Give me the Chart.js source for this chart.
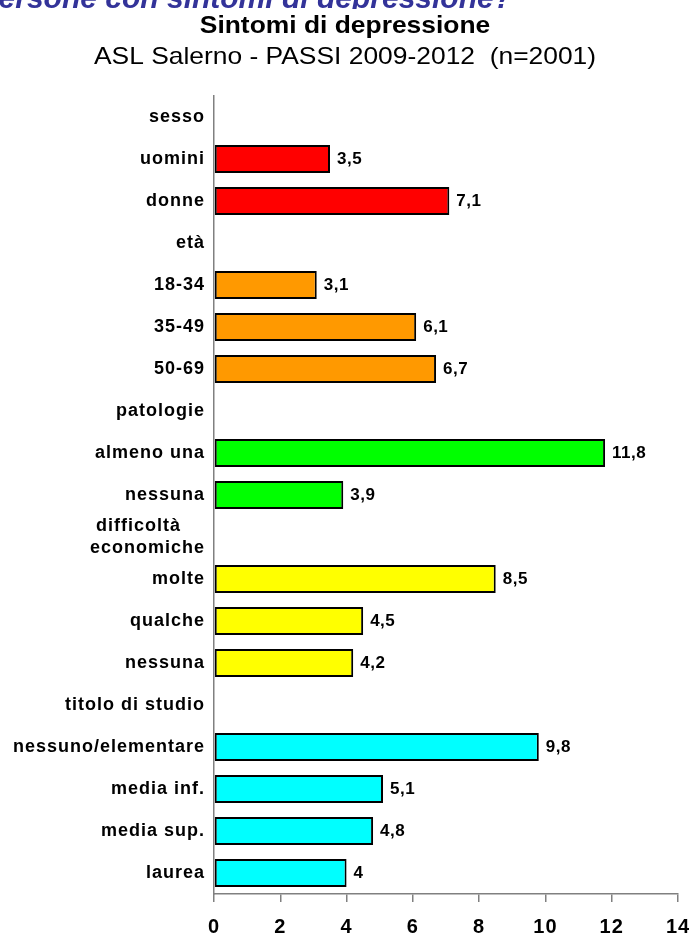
<!DOCTYPE html>
<html>
<head>
<meta charset="utf-8">
<script src="https://cdn.jsdelivr.net/npm/chart.js@4.4.1/dist/chart.umd.min.js"></script>
<style>
    html, body { margin: 0; padding: 0; background: #fff; overflow: hidden; }
    #wrap { width: 690px; height: 934px; overflow: hidden; }
    #box { width: 700px; height: 934px; }
</style>
</head>
<body>
<div id="wrap"><div id="box"><canvas id="depChart"></canvas></div></div>
<script>
// categories top to bottom (group headers have no value)
const categories = ["sesso", "uomini", "donne", "età", "18-34", "35-49", "50-69",
    "patologie", "almeno una", "nessuna", ["difficoltà    ", "economiche"], "molte", "qualche", "nessuna",
    "titolo di studio", "nessuno/elementare", "media inf.", "media sup.", "laurea"];
const values = [null, 3.5, 7.1, null, 3.1, 6.1, 6.7, null, 11.8, 3.9, null, 8.5, 4.5, 4.2,
    null, 9.8, 5.1, 4.8, 4.0];
const barColors = ["#FF0000", "#FF0000", "#FF0000", "#FF9900", "#FF9900", "#FF9900", "#FF9900",
    "#00FF00", "#00FF00", "#00FF00", "#FFFF00", "#FFFF00", "#FFFF00", "#FFFF00",
    "#00FFFF", "#00FFFF", "#00FFFF", "#00FFFF", "#00FFFF"];
const xTicks = [0, 2, 4, 6, 8, 10, 12, 14];

const titleText = "Sintomi di depressione";
const subtitleText = "ASL Salerno - PASSI 2009-2012  (n=2001)";
const topText = "Persone con sintomi di depressione?";

const textPlugin = {
    id: "texts",
    beforeDraw(chart) {
        // the original labels are a bit spaced out
        chart.ctx.letterSpacing = "1px";
    },
    afterDraw(chart) {
        const ctx = chart.ctx;
        ctx.save();
        ctx.letterSpacing = "0px";
        // heading cut off at the top of the picture
        ctx.save();
        ctx.beginPath();
        ctx.rect(0, 0, 700, 9);
        ctx.clip();
        ctx.fillStyle = "#333399";
        ctx.font = "italic bold 30px 'Liberation Sans', Arial, sans-serif";
        ctx.textAlign = "right";
        ctx.textBaseline = "alphabetic";
        ctx.fillText(topText, 512, 8);
        ctx.restore();

        ctx.fillStyle = "#000";
        ctx.textAlign = "center";
        ctx.save();
        ctx.translate(345, 33);
        ctx.scale(1.1, 1);
        ctx.font = "bold 24px 'Liberation Sans', Arial, sans-serif";
        ctx.fillText(titleText, 0, 0);
        ctx.restore();
        ctx.save();
        ctx.translate(345, 64);
        ctx.scale(1.1, 1);
        ctx.font = "24px 'Liberation Sans', Arial, sans-serif";
        ctx.fillText(subtitleText, 0, 0);
        ctx.restore();

        // value labels
        const meta = chart.getDatasetMeta(0);
        ctx.letterSpacing = "0.5px";
        ctx.font = "bold 17px 'Liberation Sans', Arial, sans-serif";
        ctx.textAlign = "left";
        ctx.textBaseline = "middle";
        meta.data.forEach((bar, i) => {
            if (values[i] === null) return;
            ctx.fillText(String(values[i]).replace(".", ","), bar.x + 7, bar.y);
        });
        ctx.restore();
        ctx.letterSpacing = "0px";
    }
};

new Chart(document.getElementById("depChart"), {
    type: 'bar',
    data: {
        labels: categories,
        datasets: [{
            data: values,
            backgroundColor: barColors,
            borderColor: "#000",
            borderWidth: 2,
            borderSkipped: false,
            categoryPercentage: 1,
            barPercentage: 0.667
        }]
    },
    options: {
        indexAxis: 'y',
        responsive: true,
        maintainAspectRatio: false,
        animation: false,
        layout: {
            padding: { top: 96, right: 22, left: 0, bottom: 0 }
        },
        plugins: {
            legend: { display: false },
            tooltip: { enabled: false }
        },
        scales: {
            x: {
                min: 0,
                max: 14,
                afterBuildTicks: (scale) => {
                    scale.ticks = xTicks.map(v => ({ value: v }));
                },
                afterFit: (scale) => {
                    scale.height = 40;
                    // "14" is allowed to run off the right edge
                    scale.paddingLeft = 0;
                    scale.paddingRight = 0;
                },
                border: { display: true, color: "#808080", width: 1.5 },
                grid: {
                    drawOnChartArea: false,
                    drawTicks: true,
                    tickLength: 8,
                    color: "#808080",
                    lineWidth: 1.5
                },
                ticks: {
                    color: "#000",
                    padding: 13,
                    maxRotation: 0,
                    font: { family: "'Liberation Sans', Arial, sans-serif", size: 20, weight: 'bold' }
                }
            },
            y: {
                afterFit: (scale) => { scale.width = 214; },
                border: { display: true, color: "#808080", width: 1.5 },
                grid: { display: false, drawTicks: false },
                ticks: {
                    color: "#000",
                    padding: 9,
                    autoSkip: false,
                    font: { family: "'Liberation Sans', Arial, sans-serif", size: 18, weight: 'bold', lineHeight: 1.2 }
                }
            }
        }
    },
    plugins: [textPlugin]
});
</script>
</body>
</html>
